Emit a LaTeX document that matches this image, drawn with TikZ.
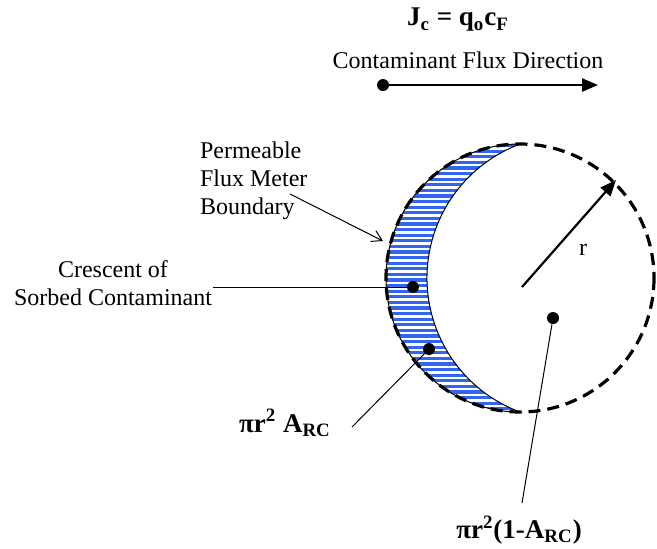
\documentclass[tikz,border=0pt]{standalone}
\usepackage{fontspec}
\setmainfont{Liberation Serif}
\usetikzlibrary{arrows.meta}
\definecolor{azulRaya}{HTML}{3366F0}

\begin{document}
\begin{tikzpicture}[x=0.5pt,y=-0.5pt,font=\fontsize{12}{14}\selectfont]
  \useasboundingbox (0,0) rectangle (657,548);
  \tikzset{punto/.style={circle,fill,inner sep=0pt,minimum size=6pt},
           guia/.style={line width=0.5pt},
           negrita/.style={font=\fontsize{13.5}{14}\selectfont\bfseries}}
  % hatched crescent
  \begin{scope}
    \clip (520,144) arc[start angle=270,end angle=90,radius=134]
                    arc[start angle=110.46,end angle=249.54,radius=143];
    \foreach \y in {140,145.6,...,418}
      \draw[azulRaya,line width=1.6pt] (380,\y) -- (540,\y);
  \end{scope}
  \draw[guia] (520,144) arc[start angle=270,end angle=90,radius=134]
              arc[start angle=110.46,end angle=249.54,radius=143];
  \draw[line width=1.6pt,dash pattern=on 6pt off 3.5pt] (520,278) circle[radius=134];
  % flux direction
  \node[negrita] (flujo) at (458,20)
    {J\textsubscript{c} = q\textsubscript{o}c\textsubscript{F}};
  \node (dir) at (468,60) {Contaminant Flux Direction};
  \node[punto] (inicio) at (383,85) {};
  \coordinate (fin) at (598,85);
  \draw[line width=1.3pt,-{Triangle[length=8pt,width=6.5pt]}] (inicio) -- (fin);
  % radius
  \coordinate (centro) at (522,287);
  \coordinate (borde) at (616,180);
  \draw[line width=1.1pt,-{Triangle[length=8pt,width=6.5pt]}] (centro) -- (borde);
  \node (r) at (583,250) {r};
  % boundary label
  \node[anchor=west,align=left] (limite) at (193,181) {Permeable\\Flux Meter\\Boundary};
  \coordinate (limiteIni) at (290,194);
  \coordinate (limiteFin) at (383,241);
  \draw[guia,-{Straight Barb[length=5pt,width=6pt]}] (limiteIni) -- (limiteFin);
  % crescent label
  \node[align=center] (creciente) at (113,283) {Crescent of\\Sorbed Contaminant};
  \node[punto] (pC) at (413,287) {};
  \coordinate (cIni) at (213,287);
  \draw[guia] (cIni) -- (pC);
  % areas
  \node[punto] (pA) at (429,349) {};
  \node[punto] (pB) at (553,318) {};
  \node[negrita] (areaA) at (285,423) {πr\textsuperscript{2} A\textsubscript{RC}};
  \node[negrita] (areaB) at (519,530) {πr\textsuperscript{2}(1-A\textsubscript{RC})};
  \coordinate (aIni) at (352,427);
  \coordinate (bIni) at (522,503);
  \draw[guia] (aIni) -- (pA);
  \draw[guia] (bIni) -- (pB);
\end{tikzpicture}
\end{document}
